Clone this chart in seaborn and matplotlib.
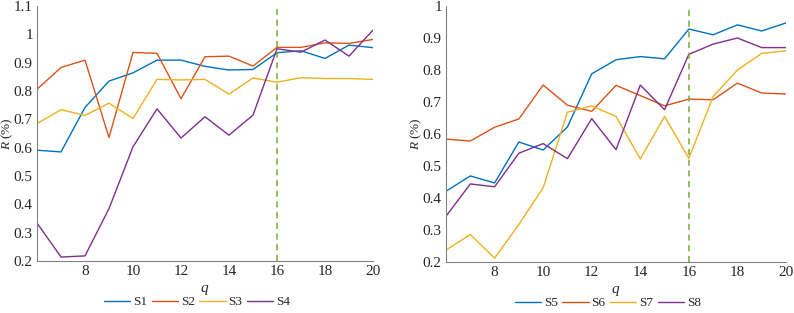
import pandas as pd
import matplotlib
matplotlib.use("Agg")
import matplotlib.pyplot as plt
import seaborn as sns
from matplotlib.ticker import FormatStrFormatter

sns.set_style("white")
plt.rcParams["font.family"] = ["Liberation Serif", "DejaVu Serif"]
plt.rcParams["mathtext.fontset"] = "custom"
plt.rcParams["mathtext.it"] = "Liberation Serif:italic"
plt.rcParams["mathtext.rm"] = "Liberation Serif"

q = list(range(6, 21))

# left panel
s1 = [0.591, 0.585, 0.742, 0.835, 0.864, 0.909, 0.909, 0.887, 0.874, 0.876, 0.935, 0.942, 0.915, 0.962, 0.953]
s2 = [0.806, 0.883, 0.909, 0.636, 0.936, 0.933, 0.773, 0.921, 0.923, 0.888, 0.954, 0.954, 0.970, 0.968, 0.982]
s3 = [0.685, 0.734, 0.714, 0.757, 0.703, 0.841, 0.839, 0.841, 0.789, 0.846, 0.831, 0.847, 0.844, 0.844, 0.841]
s4 = [0.334, 0.214, 0.218, 0.385, 0.603, 0.737, 0.634, 0.709, 0.644, 0.715, 0.949, 0.937, 0.980, 0.923, 1.015]

# right panel
s5 = [0.421, 0.469, 0.447, 0.575, 0.550, 0.622, 0.788, 0.832, 0.842, 0.835, 0.928, 0.910, 0.941, 0.922, 0.947]
s6 = [0.584, 0.578, 0.621, 0.647, 0.753, 0.690, 0.671, 0.752, 0.720, 0.688, 0.709, 0.707, 0.759, 0.728, 0.725]
s7 = [0.237, 0.286, 0.212, 0.317, 0.432, 0.668, 0.688, 0.655, 0.522, 0.655, 0.524, 0.717, 0.800, 0.852, 0.860]
s8 = [0.343, 0.444, 0.435, 0.540, 0.570, 0.523, 0.648, 0.551, 0.753, 0.676, 0.849, 0.881, 0.900, 0.870, 0.870]

colors = ["#0072BD", "#D95319", "#EDB120", "#7E2F8E"]
axis_grey = "#808080"


def long_df(series):
    rows = []
    for name, vals in series.items():
        for x, v in zip(q, vals):
            rows.append({"q": x, "R": v, "series": name})
    return pd.DataFrame(rows)


def draw(ax, series, ylim, yticks):
    df = long_df(series)
    sns.lineplot(data=df, x="q", y="R", hue="series", palette=colors,
                 linewidth=1.0, ax=ax)
    ax.axvline(16, color="#77AC30", linestyle=(0, (4, 3)), linewidth=1.1)
    ax.set_xlim(6, 20)
    ax.set_ylim(*ylim)
    ax.set_xticks(range(8, 21, 2))
    ax.set_yticks(yticks)
    ax.yaxis.set_major_formatter(FormatStrFormatter("%g"))
    ax.set_xlabel("$q$", fontsize=11)
    ax.set_ylabel("$R$ (%)", fontsize=9.5)
    ax.xaxis.set_label_coords(0.5, -0.085)
    ax.yaxis.set_label_coords(-0.064, 0.5)
    for side in ["top", "right"]:
        ax.spines[side].set_visible(False)
    for side in ["left", "bottom"]:
        ax.spines[side].set_color(axis_grey)
        ax.spines[side].set_linewidth(0.8)
    ax.tick_params(direction="in", length=3, width=0.8, colors=axis_grey,
                   labelcolor="#262626", labelsize=11, pad=3)
    ax.legend(loc="center", bbox_to_anchor=(0.476, -0.161), ncol=4,
              frameon=False, fontsize=9.5, handlelength=2.0,
              columnspacing=0.35, handletextpad=0.2, borderaxespad=0)


fig, (ax1, ax2) = plt.subplots(1, 2, figsize=(7.94, 3.13), dpi=100)
ax1.set_position([37 / 794, 1 - 261 / 313, 336 / 794, 255 / 313])
ax2.set_position([446 / 794, 1 - 262 / 313, 340 / 794, 256 / 313])

draw(ax1, {"S1": s1, "S2": s2, "S3": s3, "S4": s4},
     (0.2, 1.1), [0.2, 0.3, 0.4, 0.5, 0.6, 0.7, 0.8, 0.9, 1.0, 1.1])
draw(ax2, {"S5": s5, "S6": s6, "S7": s7, "S8": s8},
     (0.2, 1.0), [0.2, 0.3, 0.4, 0.5, 0.6, 0.7, 0.8, 0.9, 1.0])

fig.savefig("out.png", dpi=100)
